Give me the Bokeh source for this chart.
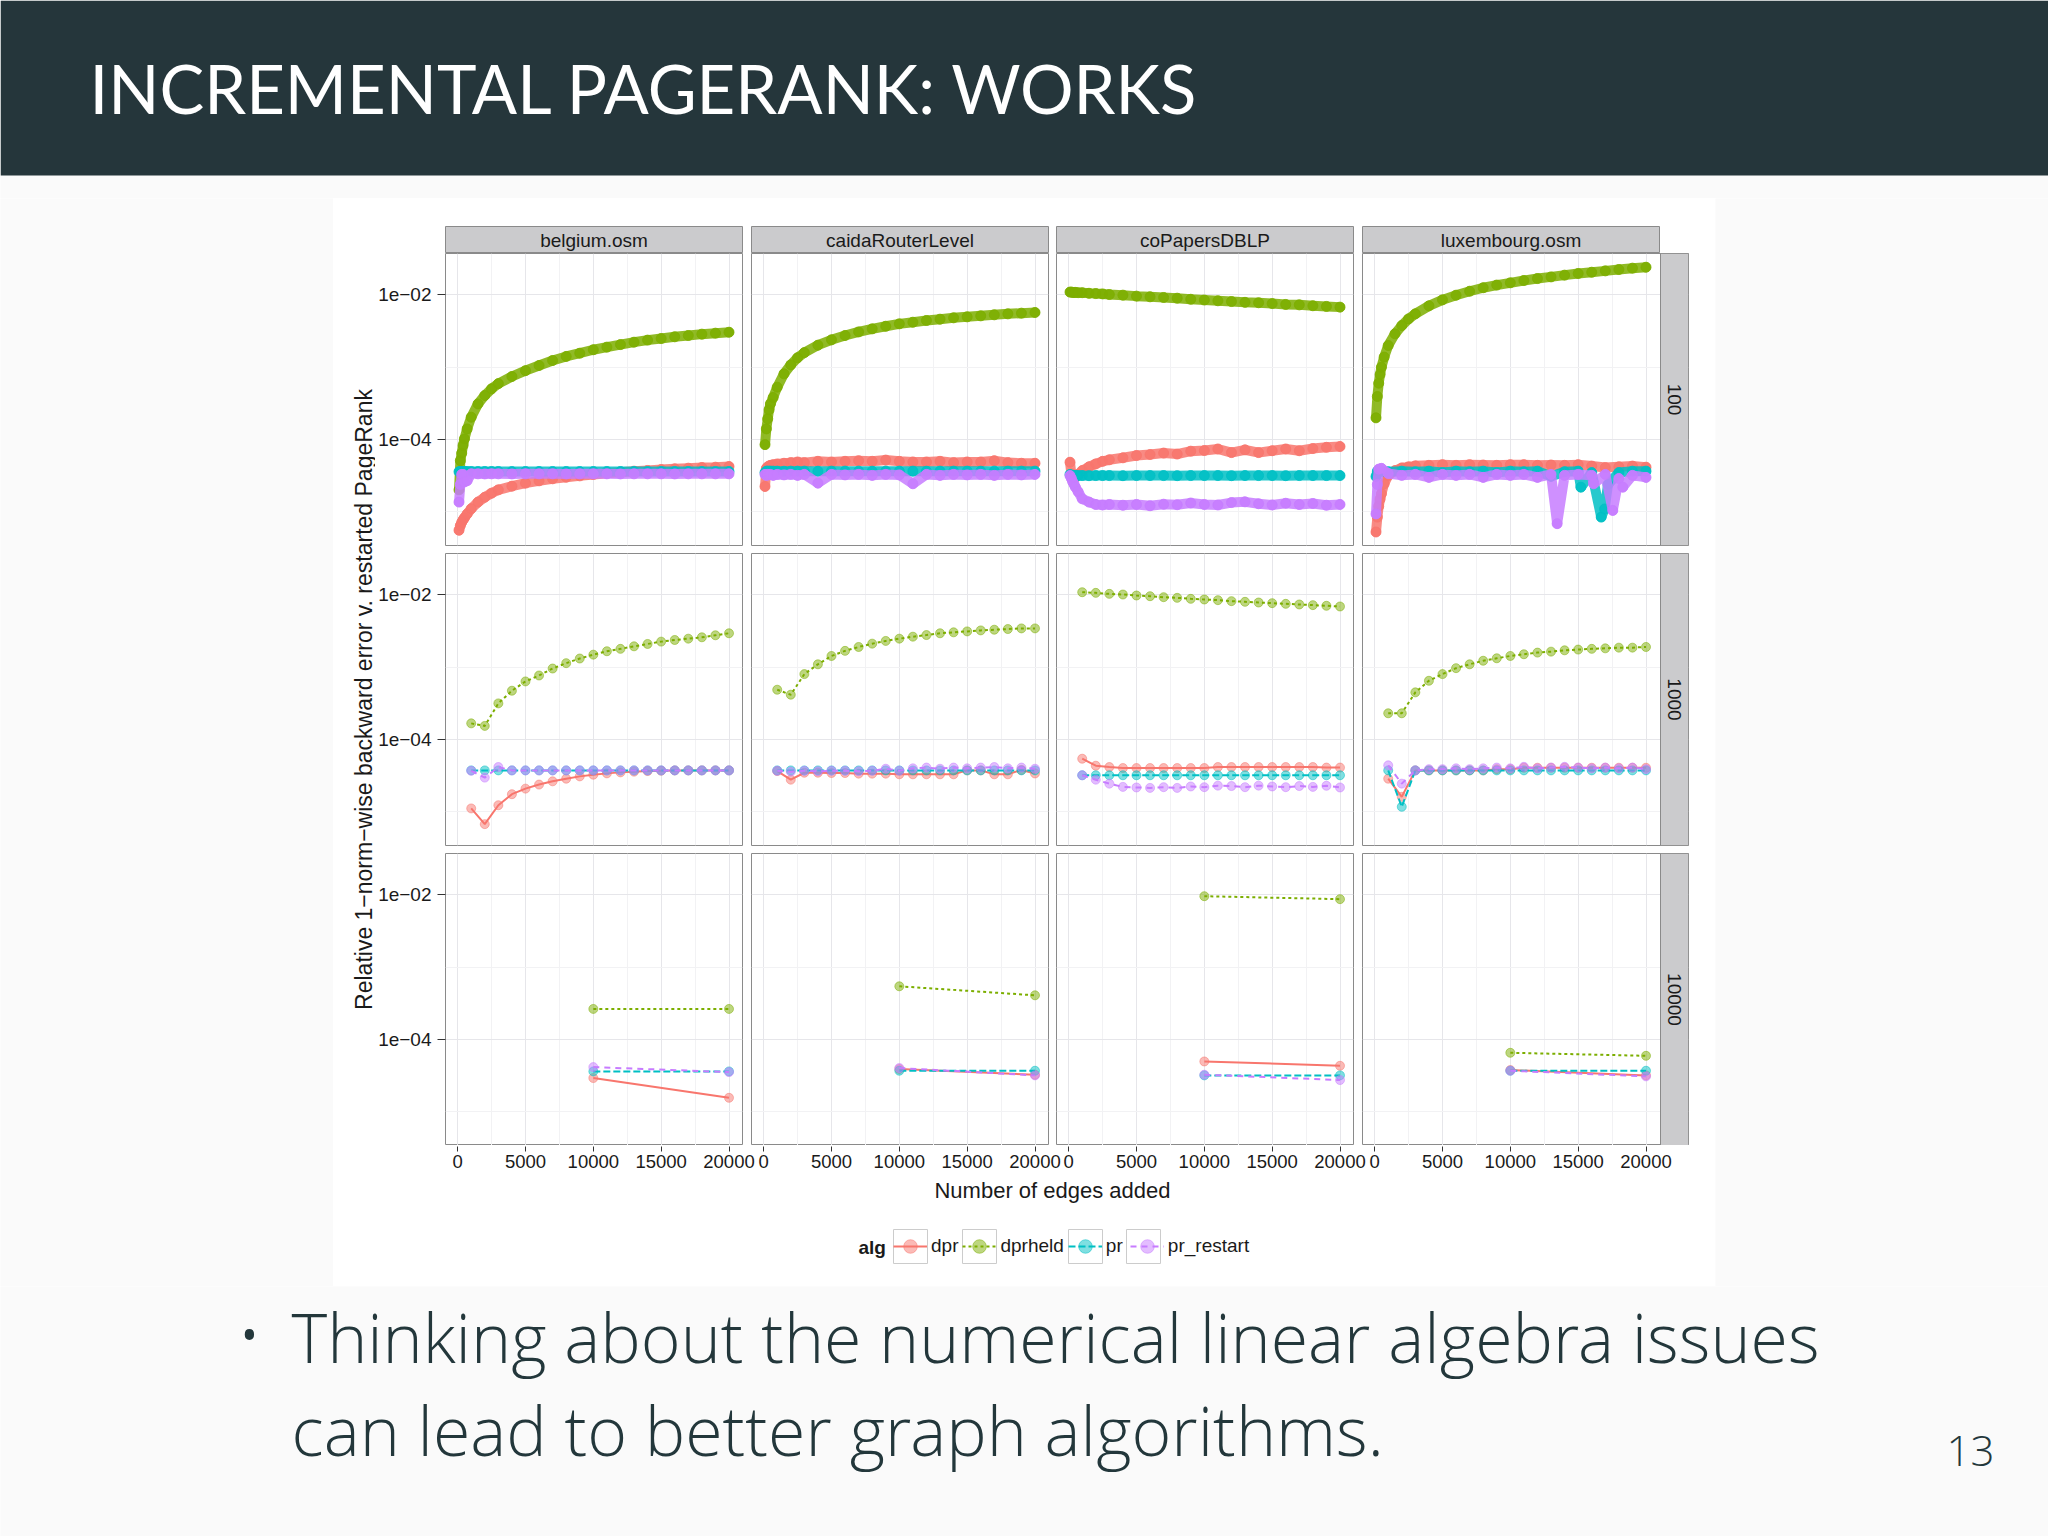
import math
from bokeh.plotting import figure
from bokeh.layouts import row, column
from bokeh.models import Range1d, FixedTicker, CustomJSTickFormatter, Legend, LegendItem
from bokeh.core.properties import value
from bokeh.embed import file_html
from bokeh.resources import INLINE

# ------------------------------------------------------------------ data
DATASETS = ["belgium.osm", "caidaRouterLevel", "coPapersDBLP", "luxembourg.osm"]
BATCHES = ["100", "1000", "10000"]
ALGS = ["dpr", "dprheld", "pr", "pr_restart"]
X_TICKS = [0, 5000, 10000, 15000, 20000]
X_MINOR = [2500, 7500, 12500, 17500]
Y_TICKS = [1e-2, 1e-4]
Y_MINOR = [1e-3, 1e-5]

TITLE = "INCREMENTAL PAGERANK: WORKS"
Y_TITLE = "Relative 1\u2212norm\u2212wise backward error v. restarted PageRank"
X_TITLE = "Number of edges added"
LEGEND_TITLE = "alg"
BULLET_LINES = ["Thinking about the numerical linear algebra issues",
                "can lead to better graph algorithms."]
PAGE_NUMBER = "13"

# batch size 100
X_B100 = [100, 200, 300, 400, 500, 700, 1000, 1500, 2000, 2500, 3000, 4000, 5000, 6000,
          7000, 8000, 9000, 10000, 11000, 12000, 13000, 14000, 15000, 16000, 17000, 18000,
          19000, 20000]
BEL_100_DPR = [5.6e-6, 6.5e-6, 7.2e-6, 7.8e-6, 8.3e-6, 9.4e-6, 1.11e-5, 1.37e-5, 1.60e-5, 1.82e-5,
               2.02e-5, 2.27e-5, 2.50e-5, 2.69e-5, 2.87e-5, 3.02e-5, 3.15e-5, 3.29e-5, 3.43e-5,
               3.54e-5, 3.66e-5, 3.74e-5, 3.85e-5, 3.94e-5, 4.02e-5, 4.11e-5, 4.15e-5, 4.24e-5]
BEL_100_DPRHELD = [2.02e-5, 5.1e-5, 6.5e-5, 8.3e-5, 1.02e-4, 1.40e-4, 2.03e-4, 3.10e-4, 4.05e-4,
                   5.0e-4, 5.9e-4, 7.4e-4, 8.9e-4, 1.05e-3, 1.23e-3, 1.40e-3, 1.55e-3, 1.73e-3,
                   1.88e-3, 2.04e-3, 2.20e-3, 2.35e-3, 2.47e-3, 2.61e-3, 2.72e-3, 2.84e-3,
                   2.93e-3, 3.02e-3]
BEL_100_PR = [3.60e-5, 3.62e-5, 3.62e-5, 3.62e-5, 3.62e-5, 3.62e-5, 3.62e-5, 3.61e-5, 3.62e-5,
              3.62e-5, 3.62e-5, 3.61e-5, 3.62e-5, 3.62e-5, 3.62e-5, 3.62e-5, 3.61e-5, 3.62e-5,
              3.62e-5, 3.62e-5, 3.62e-5, 3.61e-5, 3.62e-5, 3.62e-5, 3.62e-5, 3.62e-5, 3.61e-5,
              3.62e-5]
BEL_100_PRR = [1.37e-5, 2.40e-5, 3.30e-5, 3.30e-5, 2.60e-5, 2.70e-5, 3.36e-5, 3.36e-5, 3.35e-5,
               3.36e-5, 3.36e-5, 3.35e-5, 3.36e-5, 3.36e-5, 3.36e-5, 3.35e-5, 3.36e-5, 3.36e-5,
               3.36e-5, 3.35e-5, 3.36e-5, 3.36e-5, 3.36e-5, 3.35e-5, 3.36e-5, 3.36e-5, 3.36e-5,
               3.36e-5]
CAI_100_DPR = [2.25e-5, 4.0e-5, 4.2e-5, 4.3e-5, 4.4e-5, 4.5e-5, 4.6e-5, 4.7e-5, 4.8e-5, 4.9e-5,
               4.8e-5, 5.0e-5, 4.9e-5, 5.0e-5, 5.1e-5, 5.0e-5, 5.2e-5, 5.0e-5, 4.9e-5, 4.9e-5,
               5.0e-5, 4.8e-5, 4.9e-5, 4.9e-5, 5.1e-5, 4.8e-5, 4.7e-5, 4.7e-5]
CAI_100_DPRHELD = [8.5e-5, 1.40e-4, 1.93e-4, 2.57e-4, 3.10e-4, 3.8e-4, 5.27e-4, 8.05e-4, 1.07e-3,
                   1.34e-3, 1.58e-3, 2.00e-3, 2.37e-3, 2.72e-3, 3.05e-3, 3.36e-3, 3.65e-3,
                   3.94e-3, 4.15e-3, 4.38e-3, 4.57e-3, 4.77e-3, 4.92e-3, 5.08e-3, 5.25e-3,
                   5.41e-3, 5.53e-3, 5.65e-3]
CAI_100_PR = [3.50e-5, 3.66e-5, 3.66e-5, 3.65e-5, 3.66e-5, 3.66e-5, 3.66e-5, 3.65e-5, 3.66e-5,
              3.66e-5, 3.66e-5, 3.65e-5, 3.66e-5, 3.66e-5, 3.66e-5, 3.65e-5, 3.66e-5, 3.66e-5,
              3.66e-5, 3.65e-5, 3.66e-5, 3.66e-5, 3.66e-5, 3.65e-5, 3.66e-5, 3.66e-5, 3.66e-5,
              3.66e-5]
CAI_100_PRR = [3.3e-5, 3.2e-5, 3.3e-5, 3.25e-5, 3.3e-5, 3.2e-5, 3.3e-5, 3.25e-5, 3.3e-5, 3.2e-5,
               3.3e-5, 2.5e-5, 3.3e-5, 3.25e-5, 3.3e-5, 3.2e-5, 3.3e-5, 3.25e-5, 2.45e-5, 3.3e-5,
               3.2e-5, 3.3e-5, 3.25e-5, 3.3e-5, 3.2e-5, 3.3e-5, 3.25e-5, 3.3e-5]
COP_100_DPR = [4.86e-5, 3.36e-5, 2.96e-5, 2.96e-5, 3.0e-5, 3.3e-5, 3.73e-5, 4.2e-5, 4.61e-5,
               5.0e-5, 5.25e-5, 5.59e-5, 6.01e-5, 6.21e-5, 6.5e-5, 6.3e-5, 6.9e-5, 7.05e-5,
               7.4e-5, 6.6e-5, 7.2e-5, 6.6e-5, 7.0e-5, 7.4e-5, 7.0e-5, 7.5e-5, 7.8e-5, 8.0e-5]
COP_100_DPRHELD = [1.08e-2, 1.08e-2, 1.07e-2, 1.07e-2, 1.07e-2, 1.06e-2, 1.06e-2, 1.04e-2,
                   1.03e-2, 1.02e-2, 1.00e-2, 9.8e-3, 9.5e-3, 9.3e-3, 9.1e-3, 8.9e-3, 8.6e-3,
                   8.4e-3, 8.2e-3, 8.0e-3, 7.8e-3, 7.7e-3, 7.5e-3, 7.3e-3, 7.2e-3, 7.0e-3,
                   6.85e-3, 6.7e-3]
COP_100_PR = [3.30e-5, 3.18e-5, 3.18e-5, 3.18e-5, 3.18e-5, 3.18e-5, 3.18e-5, 3.17e-5, 3.18e-5,
              3.18e-5, 3.18e-5, 3.17e-5, 3.18e-5, 3.18e-5, 3.18e-5, 3.17e-5, 3.18e-5, 3.18e-5,
              3.18e-5, 3.17e-5, 3.18e-5, 3.18e-5, 3.18e-5, 3.17e-5, 3.18e-5, 3.18e-5, 3.18e-5,
              3.18e-5]
COP_100_PRR = [3.18e-5, 2.9e-5, 2.6e-5, 2.4e-5, 2.2e-5, 1.9e-5, 1.52e-5, 1.37e-5, 1.27e-5,
               1.25e-5, 1.27e-5, 1.24e-5, 1.27e-5, 1.22e-5, 1.28e-5, 1.26e-5, 1.33e-5, 1.27e-5,
               1.25e-5, 1.35e-5, 1.38e-5, 1.30e-5, 1.25e-5, 1.32e-5, 1.27e-5, 1.31e-5, 1.24e-5,
               1.27e-5]
LUX_100_DPR = [5.3e-6, 8.5e-6, 1.2e-5, 1.5e-5, 1.78e-5, 2.45e-5, 3.18e-5, 3.73e-5, 4.06e-5,
               4.2e-5, 4.33e-5, 4.4e-5, 4.5e-5, 4.4e-5, 4.5e-5, 4.45e-5, 4.4e-5, 4.5e-5, 4.5e-5,
               4.4e-5, 4.45e-5, 4.4e-5, 4.5e-5, 4.3e-5, 4.1e-5, 4.2e-5, 4.3e-5, 4.15e-5]
LUX_100_DPRHELD = [1.99e-4, 3.92e-4, 5.98e-4, 7.88e-4, 9.95e-4, 1.37e-3, 1.98e-3, 2.87e-3,
                   3.73e-3, 4.61e-3, 5.41e-3, 6.98e-3, 8.44e-3, 9.79e-3, 1.11e-2, 1.24e-2,
                   1.35e-2, 1.45e-2, 1.56e-2, 1.66e-2, 1.75e-2, 1.85e-2, 1.95e-2, 2.03e-2,
                   2.12e-2, 2.21e-2, 2.31e-2, 2.38e-2]
LUX_100_PR_X = [100, 200, 300, 500, 1000, 2000, 3000, 4000, 5000, 6000, 7000, 8000, 9000,
                10000, 11000, 12000, 13000, 14000, 15000, 15200, 16000, 16700, 16950, 17200,
                18000, 19000, 20000]
LUX_100_PR = [3.09e-5, 3.66e-5, 3.66e-5, 3.66e-5, 3.60e-5, 3.66e-5, 3.60e-5, 3.66e-5, 3.50e-5,
              3.66e-5, 3.60e-5, 3.66e-5, 3.50e-5, 3.66e-5, 3.60e-5, 3.66e-5, 3.10e-5, 3.60e-5,
              3.66e-5, 2.20e-5, 3.50e-5, 8.5e-6, 1.10e-5, 2.40e-5, 3.50e-5, 3.66e-5, 3.66e-5]
LUX_100_PRR_X = [100, 200, 300, 500, 1000, 2000, 3000, 4000, 5000, 6000, 7000, 8000, 9000,
                 10000, 11000, 12000, 13000, 13450, 14000, 15000, 16000, 16140, 17000, 17550,
                 18000, 18290, 19000, 20000]
LUX_100_PRR = [9.4e-6, 2.4e-5, 3.9e-5, 4.0e-5, 3.4e-5, 3.2e-5, 3.3e-5, 3.0e-5, 3.3e-5, 3.2e-5,
               3.3e-5, 3.0e-5, 3.3e-5, 3.2e-5, 3.3e-5, 3.0e-5, 3.3e-5, 6.9e-6, 3.2e-5, 3.3e-5,
               3.2e-5, 2.45e-5, 3.3e-5, 1.05e-5, 2.9e-5, 2.2e-5, 3.2e-5, 3.0e-5]

# batch size 1000
X_B1000 = [1000, 2000, 3000, 4000, 5000, 6000, 7000, 8000, 9000, 10000, 11000, 12000, 13000,
           14000, 15000, 16000, 17000, 18000, 19000, 20000]
BEL_1000_DPR = [1.12e-5, 6.8e-6, 1.24e-5, 1.76e-5, 2.10e-5, 2.39e-5, 2.65e-5, 2.88e-5, 3.10e-5,
                3.27e-5, 3.41e-5, 3.52e-5, 3.60e-5, 3.67e-5, 3.71e-5, 3.75e-5, 3.75e-5, 3.75e-5,
                3.75e-5, 3.75e-5]
BEL_1000_DPRHELD = [1.67e-4, 1.54e-4, 3.15e-4, 4.71e-4, 6.33e-4, 7.64e-4, 9.53e-4, 1.13e-3,
                    1.31e-3, 1.48e-3, 1.65e-3, 1.78e-3, 1.93e-3, 2.08e-3, 2.24e-3, 2.36e-3,
                    2.46e-3, 2.57e-3, 2.74e-3, 2.92e-3]
BEL_1000_PR = [3.75e-5, 3.75e-5, 3.75e-5, 3.75e-5, 3.75e-5, 3.75e-5, 3.75e-5, 3.75e-5, 3.75e-5,
               3.75e-5, 3.75e-5, 3.75e-5, 3.75e-5, 3.75e-5, 3.75e-5, 3.75e-5, 3.75e-5, 3.75e-5,
               3.75e-5, 3.75e-5]
BEL_1000_PRR = [3.70e-5, 2.98e-5, 4.17e-5, 3.75e-5, 3.75e-5, 3.75e-5, 3.75e-5, 3.75e-5, 3.75e-5,
                3.75e-5, 3.75e-5, 3.75e-5, 3.75e-5, 3.75e-5, 3.75e-5, 3.75e-5, 3.75e-5, 3.75e-5,
                3.75e-5, 3.75e-5]
CAI_1000_DPR = [3.67e-5, 2.79e-5, 3.48e-5, 3.48e-5, 3.45e-5, 3.45e-5, 3.38e-5, 3.38e-5, 3.38e-5,
                3.31e-5, 3.31e-5, 3.31e-5, 3.31e-5, 3.31e-5, 3.75e-5, 3.75e-5, 3.31e-5, 3.31e-5,
                3.80e-5, 3.40e-5]
CAI_1000_DPRHELD = [4.86e-4, 4.15e-4, 7.98e-4, 1.09e-3, 1.42e-3, 1.67e-3, 1.89e-3, 2.10e-3,
                    2.29e-3, 2.46e-3, 2.62e-3, 2.76e-3, 2.92e-3, 3.01e-3, 3.10e-3, 3.20e-3,
                    3.27e-3, 3.34e-3, 3.41e-3, 3.41e-3]
CAI_1000_PR = [3.75e-5, 3.75e-5, 3.75e-5, 3.75e-5, 3.75e-5, 3.75e-5, 3.75e-5, 3.75e-5, 3.75e-5,
               3.75e-5, 3.75e-5, 3.75e-5, 3.75e-5, 3.75e-5, 3.75e-5, 3.75e-5, 3.75e-5, 3.75e-5,
               3.75e-5, 3.75e-5]
CAI_1000_PRR = [3.70e-5, 3.60e-5, 3.70e-5, 3.65e-5, 3.70e-5, 3.70e-5, 3.65e-5, 3.70e-5, 3.95e-5,
                3.70e-5, 4.00e-5, 4.10e-5, 3.95e-5, 4.10e-5, 4.00e-5, 4.10e-5, 4.17e-5, 4.00e-5,
                4.10e-5, 3.95e-5]
COP_1000_DPR = [5.43e-5, 4.35e-5, 4.17e-5, 4.04e-5, 4.04e-5, 4.04e-5, 4.04e-5, 4.04e-5, 4.04e-5,
                4.04e-5, 4.17e-5, 4.17e-5, 4.17e-5, 4.17e-5, 4.17e-5, 4.17e-5, 4.17e-5, 4.17e-5,
                4.10e-5, 4.10e-5]
COP_1000_DPRHELD = [1.076e-2, 1.054e-2, 1.021e-2, 1.0e-2, 9.69e-3, 9.48e-3, 9.19e-3, 9.0e-3,
                    8.72e-3, 8.54e-3, 8.36e-3, 8.10e-3, 7.93e-3, 7.76e-3, 7.60e-3, 7.44e-3,
                    7.29e-3, 7.14e-3, 6.99e-3, 6.84e-3]
COP_1000_PR = [3.21e-5, 3.21e-5, 3.21e-5, 3.21e-5, 3.21e-5, 3.21e-5, 3.21e-5, 3.21e-5, 3.21e-5,
               3.21e-5, 3.21e-5, 3.21e-5, 3.21e-5, 3.21e-5, 3.21e-5, 3.21e-5, 3.21e-5, 3.21e-5,
               3.21e-5, 3.21e-5]
COP_1000_PRR = [3.21e-5, 2.79e-5, 2.46e-5, 2.22e-5, 2.18e-5, 2.15e-5, 2.20e-5, 2.15e-5, 2.25e-5,
                2.20e-5, 2.31e-5, 2.28e-5, 2.20e-5, 2.31e-5, 2.25e-5, 2.20e-5, 2.28e-5, 2.22e-5,
                2.30e-5, 2.18e-5]
LUX_1000_DPR = [2.88e-5, 1.62e-5, 3.75e-5, 3.75e-5, 3.75e-5, 3.75e-5, 3.75e-5, 3.75e-5, 3.90e-5,
                3.90e-5, 4.08e-5, 4.08e-5, 4.08e-5, 4.08e-5, 4.08e-5, 4.08e-5, 4.08e-5, 4.08e-5,
                4.08e-5, 4.08e-5]
LUX_1000_DPRHELD = [2.30e-4, 2.30e-4, 4.47e-4, 6.46e-4, 7.98e-4, 9.64e-4, 1.09e-3, 1.22e-3,
                    1.32e-3, 1.42e-3, 1.50e-3, 1.58e-3, 1.63e-3, 1.70e-3, 1.74e-3, 1.78e-3,
                    1.81e-3, 1.85e-3, 1.85e-3, 1.89e-3]
LUX_1000_PR = [3.75e-5, 1.18e-5, 3.75e-5, 3.75e-5, 3.75e-5, 3.75e-5, 3.75e-5, 3.75e-5, 3.75e-5,
               3.75e-5, 3.75e-5, 3.75e-5, 3.75e-5, 3.75e-5, 3.75e-5, 3.75e-5, 3.75e-5, 3.75e-5,
               3.75e-5, 3.75e-5]
LUX_1000_PRR = [4.40e-5, 2.46e-5, 3.75e-5, 3.90e-5, 3.90e-5, 4.00e-5, 3.90e-5, 4.00e-5, 4.10e-5,
                4.00e-5, 4.20e-5, 4.00e-5, 4.10e-5, 4.20e-5, 4.10e-5, 4.00e-5, 4.10e-5, 4.00e-5,
                4.10e-5, 3.90e-5]

# batch size 10000
X_B10000 = [10000, 20000]
BEL_10000_DPR = [2.94e-5, 1.57e-5]
BEL_10000_DPRHELD = [2.64e-4, 2.64e-4]
BEL_10000_PR = [3.63e-5, 3.63e-5]
BEL_10000_PRR = [4.16e-5, 3.55e-5]
CAI_10000_DPR = [3.91e-5, 3.27e-5]
CAI_10000_DPRHELD = [5.42e-4, 4.07e-4]
CAI_10000_PR = [3.71e-5, 3.71e-5]
CAI_10000_PRR = [4.04e-5, 3.20e-5]
COP_10000_DPR = [4.98e-5, 4.34e-5]
COP_10000_DPRHELD = [9.48e-3, 8.63e-3]
COP_10000_PR = [3.20e-5, 3.20e-5]
COP_10000_PRR = [3.27e-5, 2.76e-5]
LUX_10000_DPR = [3.79e-5, 3.20e-5]
LUX_10000_DPRHELD = [6.56e-5, 5.96e-5]
LUX_10000_PR = [3.71e-5, 3.71e-5]
LUX_10000_PRR = [3.71e-5, 3.10e-5]

DATA = {
    ("belgium.osm", "100"): {"dpr": (X_B100, BEL_100_DPR), "dprheld": (X_B100, BEL_100_DPRHELD),
                             "pr": (X_B100, BEL_100_PR), "pr_restart": (X_B100, BEL_100_PRR)},
    ("caidaRouterLevel", "100"): {"dpr": (X_B100, CAI_100_DPR), "dprheld": (X_B100, CAI_100_DPRHELD),
                                  "pr": (X_B100, CAI_100_PR), "pr_restart": (X_B100, CAI_100_PRR)},
    ("coPapersDBLP", "100"): {"dpr": (X_B100, COP_100_DPR), "dprheld": (X_B100, COP_100_DPRHELD),
                              "pr": (X_B100, COP_100_PR), "pr_restart": (X_B100, COP_100_PRR)},
    ("luxembourg.osm", "100"): {"dpr": (X_B100, LUX_100_DPR), "dprheld": (X_B100, LUX_100_DPRHELD),
                                "pr": (LUX_100_PR_X, LUX_100_PR),
                                "pr_restart": (LUX_100_PRR_X, LUX_100_PRR)},
    ("belgium.osm", "1000"): {"dpr": (X_B1000, BEL_1000_DPR), "dprheld": (X_B1000, BEL_1000_DPRHELD),
                              "pr": (X_B1000, BEL_1000_PR), "pr_restart": (X_B1000, BEL_1000_PRR)},
    ("caidaRouterLevel", "1000"): {"dpr": (X_B1000, CAI_1000_DPR),
                                   "dprheld": (X_B1000, CAI_1000_DPRHELD),
                                   "pr": (X_B1000, CAI_1000_PR), "pr_restart": (X_B1000, CAI_1000_PRR)},
    ("coPapersDBLP", "1000"): {"dpr": (X_B1000, COP_1000_DPR), "dprheld": (X_B1000, COP_1000_DPRHELD),
                               "pr": (X_B1000, COP_1000_PR), "pr_restart": (X_B1000, COP_1000_PRR)},
    ("luxembourg.osm", "1000"): {"dpr": (X_B1000, LUX_1000_DPR),
                                 "dprheld": (X_B1000, LUX_1000_DPRHELD),
                                 "pr": (X_B1000, LUX_1000_PR), "pr_restart": (X_B1000, LUX_1000_PRR)},
    ("belgium.osm", "10000"): {"dpr": (X_B10000, BEL_10000_DPR),
                               "dprheld": (X_B10000, BEL_10000_DPRHELD),
                               "pr": (X_B10000, BEL_10000_PR), "pr_restart": (X_B10000, BEL_10000_PRR)},
    ("caidaRouterLevel", "10000"): {"dpr": (X_B10000, CAI_10000_DPR),
                                    "dprheld": (X_B10000, CAI_10000_DPRHELD),
                                    "pr": (X_B10000, CAI_10000_PR),
                                    "pr_restart": (X_B10000, CAI_10000_PRR)},
    ("coPapersDBLP", "10000"): {"dpr": (X_B10000, COP_10000_DPR),
                                "dprheld": (X_B10000, COP_10000_DPRHELD),
                                "pr": (X_B10000, COP_10000_PR), "pr_restart": (X_B10000, COP_10000_PRR)},
    ("luxembourg.osm", "10000"): {"dpr": (X_B10000, LUX_10000_DPR),
                                  "dprheld": (X_B10000, LUX_10000_DPRHELD),
                                  "pr": (X_B10000, LUX_10000_PR),
                                  "pr_restart": (X_B10000, LUX_10000_PRR)},
}

# ------------------------------------------------------------------ style
COLORS = {"dpr": "#F8766D", "dprheld": "#7CAE00", "pr": "#00BFC4", "pr_restart": "#C77CFF"}
DASHES = {"dpr": "solid", "dprheld": "3 3", "pr": "7 3", "pr_restart": "6 5"}
PAGE_BG = "#fafafa"
HEADER_BG = "#25363b"
TEXT_COL = "#23373b"
BORDER = "#8a8a8a"
STRIP_FILL = "#cbcbcd"
KEY_BORDER = "#cccccc"
GRID = "#e6e6ea"
GRID_MINOR = "#f2f2f4"
GG_FONT = "Liberation Sans"
GG_TEXT = "#1a1a1a"
SLIDE_FONT = "Open Sans Light, Open Sans"
TITLE_FONT = "Lato"

# geometry (page pixels)
PAGE_W, PAGE_H = 2048, 1536
X_LO, X_HI = -895.0, 20995.0
Y_LO, Y_HI = 3.45e-6, 3.68e-2
PANEL_W, PANEL_H, ROW_GAP = 297, 292, 8
COL_LEFT = [445, 751, 1056, 1362]
BLOCK_L, BLOCK_R = 375, 1715
BLOCK_TOP, BLOCK_BOTTOM = 198, 1286
STRIP_W = 29
UPP = (X_HI - X_LO) / PANEL_W


def base_fig(width, height, xr, yr, **kw):
    opts = dict(width=width, height=height, x_range=xr, y_range=yr, toolbar_location=None,
                output_backend="svg", min_border_left=0, min_border_right=0, min_border_top=0,
                min_border_bottom=0, x_axis_location=None, y_axis_location=None,
                background_fill_color="white", border_fill_color="white", outline_line_color=None)
    opts.update(kw)
    return figure(**opts)


def deco_fig(x0, x1, y0, y1, bg):
    p = base_fig(x1 - x0, y1 - y0, Range1d(x0, x1), Range1d(-y1, -y0),
                 background_fill_color=bg, border_fill_color=bg)
    p.grid.visible = False
    return p


def txt(p, x, y, s, size, color, font, align="left", angle=0.0, style="normal"):
    p.text(x=[x], y=[-y], text=[s], text_font=value(font), text_font_size=value(size),
           text_color=color, text_align=align, text_baseline="middle", angle=angle,
           text_font_style=style)


# ------------------------------------------------------------------ header
header = deco_fig(0, PAGE_W, 0, BLOCK_TOP, PAGE_BG)
header.quad(left=[0], right=[PAGE_W], top=[0], bottom=[-175], fill_color=HEADER_BG, line_color=None)
txt(header, 89, 87, TITLE, "67px", "#ffffff", TITLE_FONT)


# ------------------------------------------------------------------ panels
def fig_span(ci):
    fl = BLOCK_L if ci == 0 else COL_LEFT[ci]
    fr = COL_LEFT[ci + 1] if ci < 3 else BLOCK_R
    return fl, fr


def top_strip(ci):
    fl, fr = fig_span(ci)
    left = COL_LEFT[ci]
    p = base_fig(fr - fl, 55, Range1d(0, 1), Range1d(0, 1),
                 min_border_left=left - fl, min_border_right=fr - left - PANEL_W,
                 min_border_top=28, background_fill_color=STRIP_FILL, outline_line_color=BORDER)
    p.grid.visible = False
    p.text(x=[0.5], y=[0.5], text=[DATASETS[ci]], text_font=value(GG_FONT),
           text_font_size=value("19px"), text_color=GG_TEXT, text_align="center",
           text_baseline="middle")
    return p


ytick_fmt = CustomJSTickFormatter(code="""
const e = Math.round(Math.log10(tick));
const s = String(Math.abs(e)).padStart(2, '0');
return '1e' + (e < 0 ? '\u2212' : '+') + s;
""")


def panel(ci, ri):
    fl, fr = fig_span(ci)
    left = COL_LEFT[ci]
    frame_w = PANEL_W + (STRIP_W if ci == 3 else 0)
    x_end = X_LO + UPP * frame_w
    gap = ROW_GAP if ri < 2 else 0
    p = base_fig(fr - fl, PANEL_H + gap, Range1d(X_LO, x_end), Range1d(Y_LO, Y_HI),
                 y_axis_type="log", y_axis_location="left" if ci == 0 else None,
                 min_border_left=left - fl, min_border_right=fr - left - frame_w,
                 min_border_bottom=gap, outline_line_color=BORDER)
    p.xgrid.ticker = FixedTicker(ticks=X_TICKS, minor_ticks=X_MINOR)
    p.ygrid.ticker = FixedTicker(ticks=Y_TICKS, minor_ticks=Y_MINOR)
    for g in (p.xgrid, p.ygrid):
        g.grid_line_color = GRID
        g.minor_grid_line_color = GRID_MINOR
    if ci == 0:
        ax = p.yaxis[0]
        ax.ticker = FixedTicker(ticks=Y_TICKS)
        ax.formatter = ytick_fmt
        ax.axis_line_color = None
        ax.major_tick_out = 8
        ax.major_tick_in = 0
        ax.minor_tick_line_color = None
        ax.major_tick_line_color = "#333333"
        ax.major_label_standoff = 6
        ax.major_label_text_font = GG_FONT
        ax.major_label_text_font_size = "19px"
        ax.major_label_text_color = GG_TEXT
    ds, batch = DATASETS[ci], BATCHES[ri]
    for alg in ALGS:
        xs, ys = DATA[(ds, batch)][alg]
        c = COLORS[alg]
        if batch == "100":
            p.line(xs, ys, color=c, line_width=10, alpha=0.85, line_join="round", line_cap="round")
            p.scatter(xs, ys, size=10, color=c, alpha=0.85)
        else:
            p.line(xs, ys, color=c, line_width=2, line_dash=DASHES[alg])
            p.scatter(xs, ys, size=9, color=c, alpha=0.5)
    if ci == 3:
        s_l = X_LO + UPP * (PANEL_W + 1)
        p.quad(left=[s_l], right=[x_end], bottom=[Y_LO], top=[Y_HI], fill_color=STRIP_FILL,
               line_color=BORDER)
        p.text(x=[(s_l + x_end) / 2], y=[math.sqrt(Y_LO * Y_HI)], text=[batch],
               text_font=value(GG_FONT), text_font_size=value("19px"), text_color=GG_TEXT,
               text_align="center", text_baseline="middle", angle=-math.pi / 2)
    return p


AX_SPLIT = [BLOCK_L, 756, 1061, 1367, BLOCK_R]
AX_H = 32


def x_axis_fig(ci):
    fl, fr = AX_SPLIT[ci], AX_SPLIT[ci + 1]
    left = COL_LEFT[ci]
    frame_l = left if ci == 0 else fl
    xr = Range1d(X_LO + UPP * (frame_l - left), X_LO + UPP * (fr - left))
    p = base_fig(fr - fl, AX_H, xr, Range1d(0, 1), x_axis_location="below",
                 min_border_left=frame_l - fl, min_border_bottom=AX_H - 1)
    p.grid.visible = False
    ax = p.xaxis[0]
    ax.ticker = FixedTicker(ticks=X_TICKS)
    ax.axis_line_color = None
    ax.major_tick_out = 5
    ax.major_tick_in = 0
    ax.minor_tick_line_color = None
    ax.major_tick_line_color = "#333333"
    ax.major_label_standoff = 3
    ax.major_label_text_font = GG_FONT
    ax.major_label_text_font_size = "18.5px"
    ax.major_label_text_color = GG_TEXT
    return p


strip_row = row([top_strip(ci) for ci in range(4)])
panel_rows = [row([panel(ci, ri) for ci in range(4)]) for ri in range(3)]
axis_row = row([x_axis_fig(ci) for ci in range(4)])

# legend + x title
LEG_TOP = BLOCK_TOP + 55 + 300 + 300 + PANEL_H + AX_H
leg = deco_fig(BLOCK_L, BLOCK_R, LEG_TOP, BLOCK_BOTTOM, "white")
txt(leg, 1052, 1190, X_TITLE, "22px", GG_TEXT, GG_FONT, align="center")
txt(leg, 858, 1247, LEGEND_TITLE, "19px", GG_TEXT, GG_FONT, style="bold")
KEY_LEFT = [893, 962, 1068, 1126]
KEY_TOP, KEY_SIZE = 1229, 34
leg.quad(left=KEY_LEFT, right=[k + KEY_SIZE for k in KEY_LEFT], top=[-KEY_TOP] * 4,
         bottom=[-(KEY_TOP + KEY_SIZE)] * 4, fill_color="white", line_color=KEY_BORDER)
items = []
for alg in ALGS:
    # a point far outside the visible range, only so the legend can draw its key
    lr = leg.line(x=[0, 1], y=[0, 0], color=COLORS[alg], line_width=2, line_dash=DASHES[alg])
    sr = leg.scatter(x=[0], y=[0], size=9, color=COLORS[alg], alpha=0.5)
    items.append(LegendItem(label=alg, renderers=[lr, sr]))
legend = Legend(items=items, orientation="horizontal",
                location=(KEY_LEFT[0] - BLOCK_L, BLOCK_BOTTOM - KEY_TOP - KEY_SIZE),
                glyph_width=KEY_SIZE, glyph_height=KEY_SIZE, label_standoff=4, spacing=4,
                padding=0, margin=0, border_line_color=None, background_fill_alpha=0,
                label_text_font=GG_FONT, label_text_font_size="19px", label_text_color=GG_TEXT)
leg.add_layout(legend)

grid_col = column([strip_row] + panel_rows + [axis_row, leg])

ytitle = deco_fig(333, BLOCK_L, BLOCK_TOP, BLOCK_BOTTOM, "white")
txt(ytitle, 363, 699, Y_TITLE, "23px", GG_TEXT, GG_FONT, align="center", angle=math.pi / 2)

left_fill = deco_fig(0, 333, BLOCK_TOP, BLOCK_BOTTOM, PAGE_BG)
right_fill = deco_fig(BLOCK_R, PAGE_W, BLOCK_TOP, BLOCK_BOTTOM, PAGE_BG)
middle = row([left_fill, ytitle, grid_col, right_fill])

# ------------------------------------------------------------------ bottom text
bottom = deco_fig(0, PAGE_W, BLOCK_BOTTOM, PAGE_H, PAGE_BG)
txt(bottom, 249, 1332, "\u2022", "62px", TEXT_COL, SLIDE_FONT, align="center")
txt(bottom, 291, 1336, BULLET_LINES[0], "68px", TEXT_COL, SLIDE_FONT)
txt(bottom, 291, 1429, BULLET_LINES[1], "68px", TEXT_COL, SLIDE_FONT)
txt(bottom, 1994, 1450, PAGE_NUMBER, "42px", TEXT_COL, SLIDE_FONT, align="right")

page = column([header, middle, bottom])
open("out.html", "w").write(file_html(page, INLINE))
